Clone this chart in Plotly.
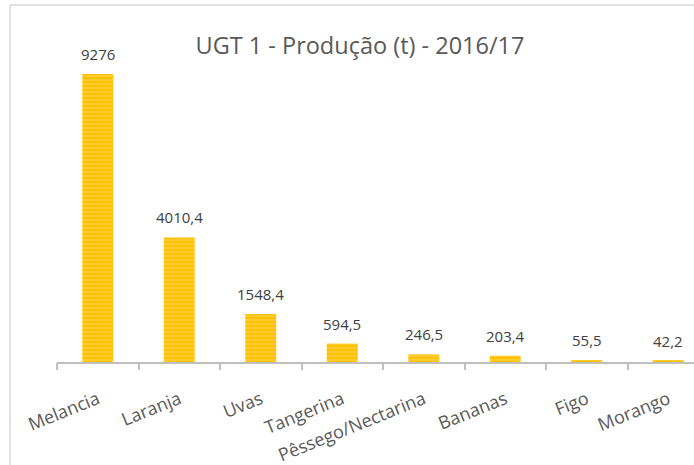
import plotly.graph_objects as go

categories = ["Melancia", "Laranja", "Uvas", "Tangerina", "Pêssego/Nectarina", "Bananas", "Figo", "Morango"]
values = [9276, 4010.4, 1548.4, 594.5, 246.5, 203.4, 55.5, 42.2]
value_labels = ["9276", "4010,4", "1548,4", "594,5", "246,5", "203,4", "55,5", "42,2"]
title_text = "UGT 1 - Produção (t) - 2016/17"

W, H = 694, 465
ml, mr, mt, mb = 57, 0, 30, 103
plot_w = W - ml - mr
plot_h = H - mt - mb
cat_px = 81.5
px_per_unit = 288 / 9276.0
ymax = plot_h / px_per_unit
xrange = [-0.5, -0.5 + plot_w / cat_px]
boundaries = [i - 0.5 for i in range(len(categories) + 1)]

font_family = "Open Sans, Lato, Noto Sans, sans-serif"

fig = go.Figure()
fig.add_trace(go.Bar(
    x=categories,
    y=values,
    marker=dict(
        color="#FFC000",
        line=dict(width=0),
        pattern=dict(shape="-", fgcolor="#FFE38A", bgcolor="#FFC000", size=4, solidity=0.35),
    ),
    hoverinfo="skip",
))

for c, v, t in zip(categories, values, value_labels):
    fig.add_annotation(x=c, y=v, text=t, showarrow=False, yshift=20,
                       font=dict(family=font_family, size=15, color="#404040"))

# chart frame lines
fig.add_shape(type="line", xref="paper", yref="paper",
              x0=(10 - ml) / plot_w, x1=1.0,
              y0=1 + (mt - 5) / plot_h, y1=1 + (mt - 5) / plot_h,
              line=dict(color="#d9d9d9", width=1.5))
fig.add_shape(type="line", xref="paper", yref="paper",
              x0=(10 - ml) / plot_w, x1=(10 - ml) / plot_w,
              y0=-mb / plot_h, y1=1 + (mt - 5) / plot_h,
              line=dict(color="#d9d9d9", width=1.5))

fig.update_layout(
    width=W, height=H,
    margin=dict(l=ml, r=mr, t=mt, b=mb, pad=0, autoexpand=False),
    paper_bgcolor="white", plot_bgcolor="white",
    showlegend=False,
    bargap=0.62,
    title=dict(text=title_text, x=360 / W, xanchor="center", y=1 - 46 / H, yanchor="middle",
               font=dict(family=font_family, size=23.5, color="#595959")),
    xaxis=dict(
        type="category",
        automargin=False,
        range=xrange,
        showline=True, linecolor="#bfbfbf", linewidth=2,
        ticks="",
        tickangle=-22,
        ticklabelstandoff=18,
        tickfont=dict(family=font_family, size=18, color="#595959"),
        showgrid=False, zeroline=False,
    ),
    xaxis2=dict(
        overlaying="x", anchor="y", side="bottom",
        range=xrange, automargin=False,
        tickmode="array", tickvals=boundaries, showticklabels=False,
        ticks="outside", ticklen=7, tickwidth=2, tickcolor="#bfbfbf",
        showline=False, showgrid=False, zeroline=False,
    ),
    yaxis=dict(range=[0, ymax], visible=False, showgrid=False, zeroline=False, automargin=False),
)

# invisible trace to activate the boundary-tick axis
fig.add_trace(go.Scatter(x=[xrange[0]], y=[0], xaxis="x2", mode="markers",
                         marker=dict(opacity=0), hoverinfo="skip", showlegend=False))

fig.write_html("out.html", config={"displayModeBar": False},
               post_script="document.body.style.margin='0px';")
